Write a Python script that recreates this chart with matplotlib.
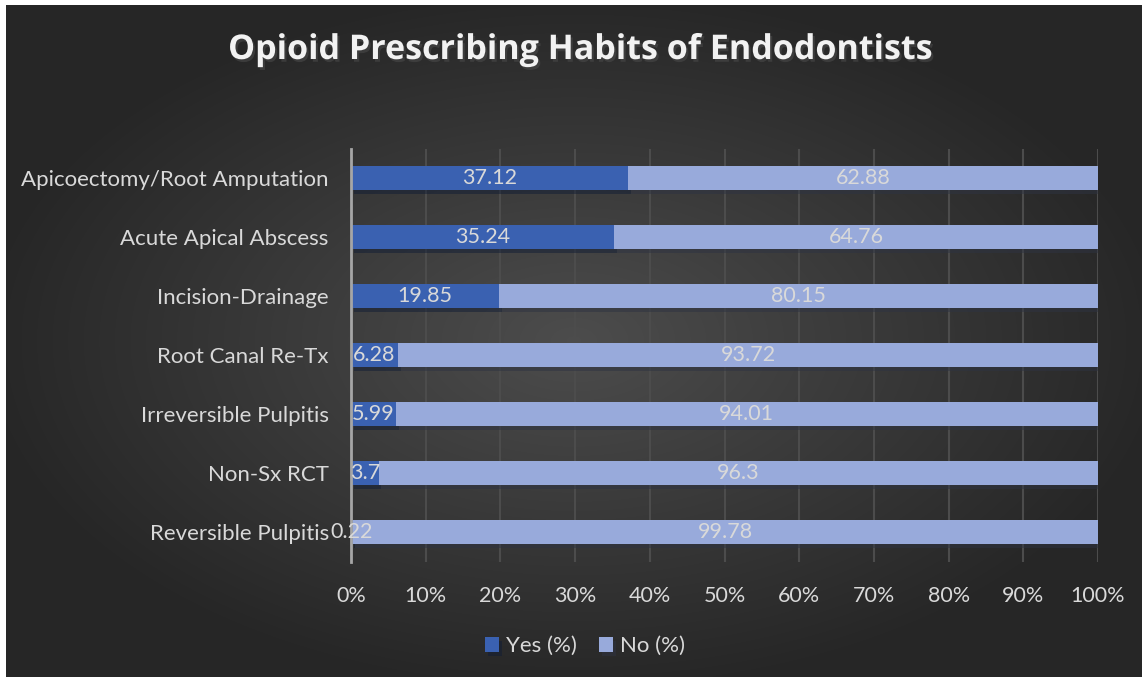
import numpy as np
import matplotlib.pyplot as plt
import matplotlib.patheffects as pe

categories = ['Reversible Pulpitis', 'Non-Sx RCT', 'Irreversible Pulpitis',
              'Root Canal Re-Tx', 'Incision-Drainage', 'Acute Apical Abscess',
              'Apicoectomy/Root Amputation']
yes_vals = [0.22, 3.7, 5.99, 6.28, 19.85, 35.24, 37.12]
no_vals = [99.78, 96.3, 94.01, 93.72, 80.15, 64.76, 62.88]
yes_labels = ['0.22', '3.7', '5.99', '6.28', '19.85', '35.24', '37.12']
no_labels = ['99.78', '96.3', '94.01', '93.72', '80.15', '64.76', '62.88']
ticks = np.arange(0, 101, 10)

plt.rcParams['font.family'] = ['Lato', 'DejaVu Sans']
txt = '#d9d9d9'
c_yes = '#3a61b1'
c_no = '#98aadb'

fig = plt.figure(figsize=(11.48, 6.82), dpi=100)
fig.patch.set_facecolor('white')

# dark radial background
bg = fig.add_axes([6 / 1148, 5 / 682, 1136 / 1148, 672 / 682])
yy, xx = np.mgrid[0:1:300j, 0:1:500j]
r = np.sqrt(((xx - 0.5) / 0.75) ** 2 + ((yy - 0.5) / 0.75) ** 2)
r = np.clip(r / 0.7, 0, 1)
val = 0.30 - 0.15 * r
bg.imshow(np.dstack([val, val, val]), aspect='auto', extent=[0, 1, 0, 1], interpolation='bicubic')
bg.set_axis_off()

ax = fig.add_axes([351 / 1148, 1 - 561.5 / 682, 747 / 1148, 413 / 682])
ax.set_facecolor('none')
y = np.arange(len(categories))
h = 0.41
shadow = [pe.SimplePatchShadow(offset=(2, -3), alpha=0.5), pe.Normal()]
b1 = ax.barh(y, yes_vals, height=h, color=c_yes, label='Yes (%)', zorder=3, path_effects=shadow)
b2 = ax.barh(y, no_vals, left=yes_vals, height=h, color=c_no, label='No (%)', zorder=3, path_effects=shadow)

for i in range(len(categories)):
    ax.text(yes_vals[i] / 2, y[i], yes_labels[i], ha='center', va='center',
            color=txt, fontsize=15.5, zorder=5)
    ax.text(yes_vals[i] + no_vals[i] / 2, y[i], no_labels[i], ha='center', va='center',
            color=txt, fontsize=15.5, zorder=5)

ax.set_xlim(0, 100)
ax.set_ylim(-0.5, len(categories) - 0.5)
ax.set_xticks(ticks)
ax.set_xticklabels([f'{t}%' for t in ticks], color=txt, fontsize=15.5)
ax.set_yticks(y)
ax.set_yticklabels(categories, color=txt, fontsize=16)
ax.tick_params(axis='both', length=0)
ax.tick_params(axis='y', pad=16)
ax.tick_params(axis='x', pad=18)
ax.grid(axis='x', color='#4c4c4c', linewidth=1.5, zorder=0)
for s in ['top', 'right', 'bottom']:
    ax.spines[s].set_visible(False)
ax.spines['left'].set_color('#a6a6a6')
ax.spines['left'].set_linewidth(2)
ax.spines['left'].set_zorder(4)

fig.text(0.505, 1 - 50 / 682, 'Opioid Prescribing Habits of Endodontists', ha='center', va='center',
         color='#f2f2f2', fontsize=24.5, fontweight='bold', family=['Open Sans', 'DejaVu Sans'],
         path_effects=[pe.withSimplePatchShadow(offset=(1.5, -2), alpha=0.6)])

fig.legend(handles=[b1, b2], labels=['Yes (%)', 'No (%)'], loc='center',
           bbox_to_anchor=(585 / 1148, 1 - 646 / 682), ncol=2, frameon=False,
           labelcolor=txt, fontsize=16, handlelength=0.65, handleheight=0.65,
           handletextpad=0.3, columnspacing=1.0)

fig.savefig('out.png', dpi=100, facecolor=fig.get_facecolor())
